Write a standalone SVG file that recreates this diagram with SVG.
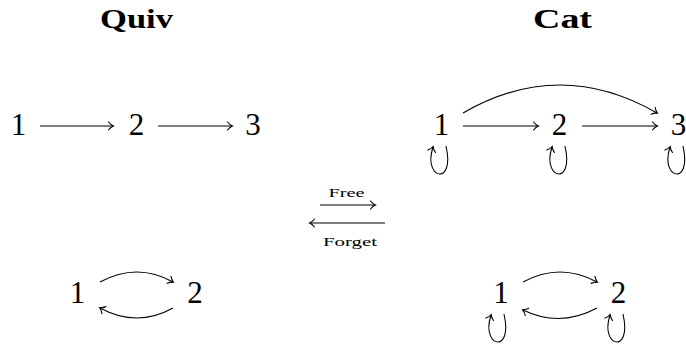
<svg xmlns="http://www.w3.org/2000/svg" width="686" height="349" viewBox="0 0 686 349">
<style>
.t{font-family:"Liberation Serif","DejaVu Serif",serif;fill:#000}
.title{font-size:27px;font-weight:bold}
.n{font-size:31px;text-anchor:middle}
.lbl{font-size:13px;text-anchor:middle}
.e{fill:none;stroke:#000;stroke-width:1.1;marker-end:url(#to)}
</style>
<defs>
<marker id="to" markerUnits="userSpaceOnUse" markerWidth="12" markerHeight="12" viewBox="-6 -6 12 12" refX="0" refY="0" orient="auto">
<path d="M-4.5,-4 C-2.5,-1.5 -0.5,-0.4 0.5,0 C-0.5,0.4 -2.5,1.5 -4.5,4" fill="none" stroke="#000" stroke-width="1.1" stroke-linecap="round"/>
</marker>
</defs>
<g id="titles">
<text class="t title" x="100" y="28" textLength="73" lengthAdjust="spacingAndGlyphs">Quiv</text>
<text class="t title" x="533" y="28" textLength="59" lengthAdjust="spacingAndGlyphs">Cat</text>
</g>
<g id="quiv1"><text class="t n" x="18.5" y="135">1</text></g>
<g id="quiv2"><text class="t n" x="136.5" y="135">2</text></g>
<g id="quiv3"><text class="t n" x="253" y="135">3</text></g>
<g id="cat1"><text class="t n" x="441.5" y="135">1</text></g>
<g id="cat2"><text class="t n" x="559.5" y="135">2</text></g>
<g id="cat3"><text class="t n" x="678.5" y="135">3</text></g>
<g id="quivb1"><text class="t n" x="77.5" y="303">1</text></g>
<g id="quivb2"><text class="t n" x="195" y="303">2</text></g>
<g id="catb1"><text class="t n" x="501" y="303">1</text></g>
<g id="catb2"><text class="t n" x="618.5" y="303">2</text></g>
<g id="adjunction">
<text class="t lbl" x="346.5" y="197" textLength="36" lengthAdjust="spacingAndGlyphs">Free</text>
<text class="t lbl" x="350" y="246" textLength="54" lengthAdjust="spacingAndGlyphs">Forget</text>
</g>
<g id="connectors">
<path class="e" d="M40,126 H113"/>
<path class="e" d="M158,126 H232"/>
<path class="e" d="M463,126 H538"/>
<path class="e" d="M582,126 H657"/>
<path class="e" d="M463,113 Q560,57 657,113"/>
<path class="e" d="M446,146 C451,168 444,174 440,174 C435,174 427,166 433,147"/>
<path class="e" d="M565,146 C570,168 563,174 559,174 C554,174 546,166 552,147"/>
<path class="e" d="M683,146 C688,168 681,174 677,174 C672,174 664,166 670,147"/>
<path class="e" d="M100,282 Q137,262 173,282"/>
<path class="e" d="M173,308 Q137,328 100,308"/>
<path class="e" d="M523,282 Q560,262 597,282"/>
<path class="e" d="M597,308 Q560,328 523,310"/>
<path class="e" d="M504,314 C509,336 502,342 498,342 C493,342 485,334 491,315"/>
<path class="e" d="M623,314 C628,336 621,342 617,342 C612,342 604,334 610,315"/>
<path class="e" d="M320,205 H375"/>
<path class="e" d="M385,223 H310"/>
</g>
</svg>
